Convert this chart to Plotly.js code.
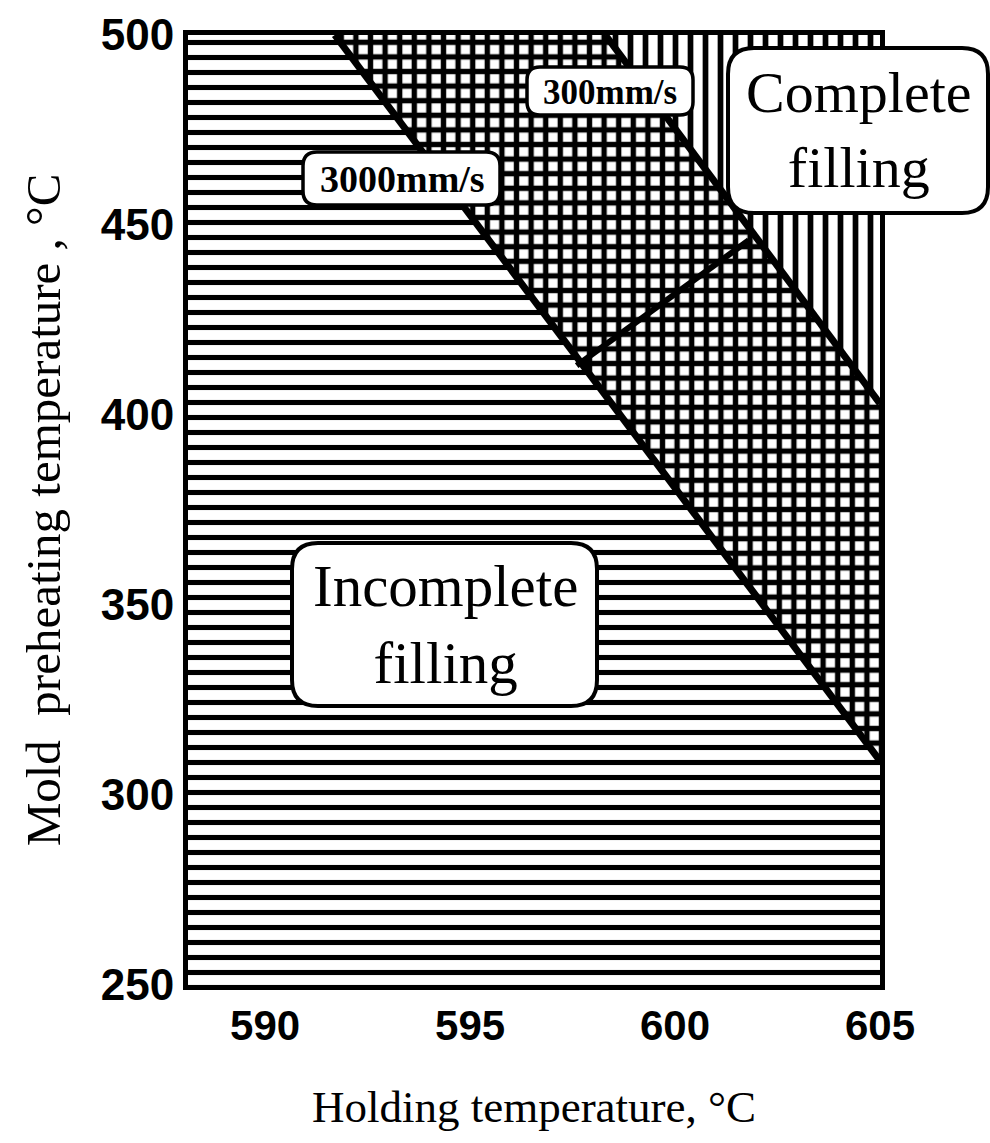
<!DOCTYPE html>
<html>
<head>
<meta charset="utf-8">
<script src="https://cdn.plot.ly/plotly-3.0.1.min.js"></script>
<style>
  html, body { margin: 0; padding: 0; background: #ffffff; }
  #chart { width: 990px; height: 1143px; }
</style>
</head>
<body>
<div id="chart"></div>
<script>
// ---- data ----
const xTicks = [590, 595, 600, 605];
const yTicks = [250, 300, 350, 400, 450, 500];
const xLimits = [588.12, 605];
const yLimits = [250, 500];

// boundary for 3000 mm/s (left of it: incomplete filling)
const speed3000X = [591.7, 605];
const speed3000Y = [500, 309];
// boundary for 300 mm/s (right of it: complete filling)
const speed300X = [598.3, 605];
const speed300Y = [500, 403];
// short connecting segment between the two boundaries
const linkX = [597.6, 601.8];
const linkY = [413, 446];

const regionLabels = ['Incomplete<br>filling', 'Complete<br>filling'];
const speedLabels = ['3000mm/s', '300mm/s'];

// ---- regions built from boundaries ----
const xLo = xLimits[0] - 1, xHi = xLimits[1] + 1, yLo = yLimits[0] - 10, yHi = yLimits[1] + 10;

function extendLine(xs, ys) {
  const m = (ys[1] - ys[0]) / (xs[1] - xs[0]);
  const x0 = xs[0] + (yHi - ys[0]) / m;
  const x1 = xHi;
  const y1 = ys[0] + m * (x1 - xs[0]);
  return { x: [x0, x1], y: [yHi, y1] };
}
const b3000 = extendLine(speed3000X, speed3000Y);
const b300 = extendLine(speed300X, speed300Y);

const incompleteRegion = {
  x: [xLo, xLo, b3000.x[0], b3000.x[1], xHi, xLo],
  y: [yLo, yHi, yHi, b3000.y[1], yLo, yLo]
};
const gridRegion = {
  x: [b3000.x[0], b300.x[0], b300.x[1], b3000.x[1], b3000.x[0]],
  y: [yHi, yHi, b300.y[1], b3000.y[1], yHi]
};
const completeRegion = {
  x: [b300.x[0], xHi, b300.x[1], b300.x[0]],
  y: [yHi, yHi, b300.y[1], yHi]
};

function region(r, shape, size, solidity) {
  return {
    type: 'scatter', mode: 'lines', x: r.x, y: r.y,
    fill: 'toself', fillcolor: 'white',
    fillpattern: { shape: shape, size: size, solidity: solidity, fgcolor: 'black', bgcolor: 'white', fgopacity: 1 },
    line: { width: 0, color: 'rgba(0,0,0,0)' },
    hoverinfo: 'skip', showlegend: false
  };
}
function boundary(xs, ys, w) {
  return {
    type: 'scatter', mode: 'lines', x: xs, y: ys,
    line: { color: 'black', width: w }, hoverinfo: 'skip', showlegend: false
  };
}

const traces = [
  region(incompleteRegion, '-', 15, 0.34),
  region(gridRegion, '+', 14.6, 0.6),
  region(completeRegion, '|', 15, 0.38),
  boundary(speed3000X, speed3000Y, 7),
  boundary(speed300X, speed300Y, 7),
  boundary(linkX, linkY, 6)
];

// ---- layout helpers (pixel -> paper for label boxes) ----
const M = { l: 188, r: 110, t: 35, b: 158 };
const W = 990, H = 1143;
const PW = W - M.l - M.r, PH = H - M.t - M.b;
const px = v => (v - M.l) / PW;
const py = v => (H - M.b - v) / PH;

function roundedBox(x0, y0, x1, y1, r, lw) {
  const rx = r / PW, ry = r / PH;
  const X0 = px(x0), X1 = px(x1), Y0 = py(y1), Y1 = py(y0);
  const p = `M ${X0 + rx},${Y0} L ${X1 - rx},${Y0} Q ${X1},${Y0} ${X1},${Y0 + ry} ` +
            `L ${X1},${Y1 - ry} Q ${X1},${Y1} ${X1 - rx},${Y1} ` +
            `L ${X0 + rx},${Y1} Q ${X0},${Y1} ${X0},${Y1 - ry} ` +
            `L ${X0},${Y0 + ry} Q ${X0},${Y0} ${X0 + rx},${Y0} Z`;
  return { type: 'path', xref: 'paper', yref: 'paper', path: p,
           fillcolor: 'white', line: { color: 'black', width: lw }, layer: 'above' };
}

const serif = 'Liberation Serif, Times New Roman, serif';
const shapes = [
  roundedBox(292, 543, 597, 706, 26, 4),
  roundedBox(728, 48, 988, 213, 26, 4),
  roundedBox(303, 152, 500, 205, 14, 3.5),
  roundedBox(527, 67, 693, 115, 13, 3.5)
];
const annotations = [
  { text: regionLabels[0], x: px(445), y: py(624), xref: 'paper', yref: 'paper', showarrow: false,
    font: { family: serif, size: 59, color: 'black' }, xanchor: 'center', yanchor: 'middle' },
  { text: regionLabels[1], x: px(859), y: py(130), xref: 'paper', yref: 'paper', showarrow: false,
    font: { family: serif, size: 58, color: 'black' }, xanchor: 'center', yanchor: 'middle' },
  { text: speedLabels[0], x: px(402), y: py(179), xref: 'paper', yref: 'paper', showarrow: false,
    font: { family: serif, size: 38, color: 'black', weight: 'bold' }, xanchor: 'center', yanchor: 'middle' },
  { text: speedLabels[1], x: px(610), y: py(92), xref: 'paper', yref: 'paper', showarrow: false,
    font: { family: serif, size: 35, color: 'black', weight: 'bold' }, xanchor: 'center', yanchor: 'middle' }
];

const layout = {
  width: W, height: H,
  margin: M,
  paper_bgcolor: 'white', plot_bgcolor: 'white',
  showlegend: false,
  xaxis: {
    range: xLimits, tickvals: xTicks, ticktext: xTicks.map(String),
    showgrid: false, zeroline: false, ticks: '',
    showline: true, mirror: true, linecolor: 'black', linewidth: 5,
    tickfont: { family: 'Liberation Sans, Arial, sans-serif', size: 42, color: 'black', weight: 'bold' },
    ticklabelstandoff: 0,
    title: { text: 'Holding temperature, °C', font: { family: serif, size: 45, color: 'black' }, standoff: 44 }
  },
  yaxis: {
    range: yLimits, tickvals: yTicks, ticktext: yTicks.map(String),
    showgrid: false, zeroline: false, ticks: '',
    showline: true, mirror: true, linecolor: 'black', linewidth: 5,
    tickfont: { family: 'Liberation Sans, Arial, sans-serif', size: 44, color: 'black', weight: 'bold' },
    ticklabelstandoff: 0,
    title: { text: 'Mold  preheating temperature , °C', font: { family: serif, size: 49, color: 'black' }, standoff: 26 }
  },
  shapes: shapes,
  annotations: annotations
};

Plotly.newPlot('chart', traces, layout, { displayModeBar: false, staticPlot: true });
</script>
</body>
</html>
